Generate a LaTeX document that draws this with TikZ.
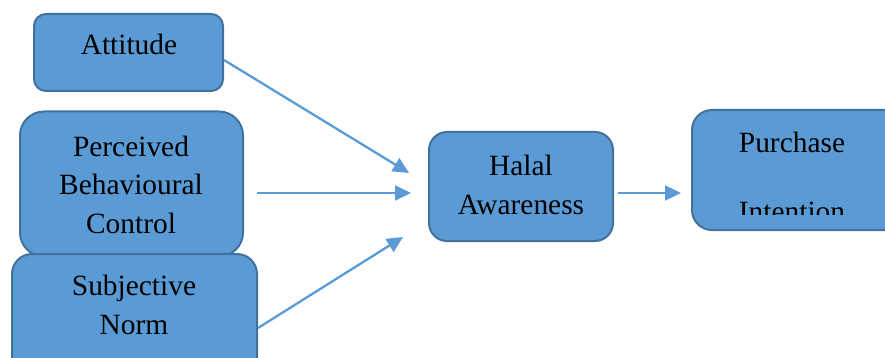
\documentclass[tikz,border=0pt]{standalone}
\usepackage{fontspec}
\setmainfont{Liberation Serif}
\usetikzlibrary{arrows.meta}
\definecolor{boxfill}{HTML}{5B9BD5}
\definecolor{boxline}{HTML}{41719C}
\begin{document}
\begin{tikzpicture}[x=1pt,y=-1pt,
  box/.style={draw=boxline,fill=boxfill,line width=2pt,inner sep=0pt},
  lbl/.style={inner sep=0pt,anchor=base,align=center,font=\fontsize{29.4}{38.5}\selectfont},
  conn/.style={draw=boxfill,line width=2.3pt,-{Triangle[length=16pt,width=15pt]}}]
\useasboundingbox (0,0) rectangle (885,358);
\clip (0,0) rectangle (885,358);
% boxes
\node[box,rounded corners=12pt,minimum width=189pt,minimum height=77pt] (att) at (128.5,52.5) {};
\node[box,rounded corners=24pt,minimum width=223pt,minimum height=145pt] (pbc) at (131.5,184) {};
\node[box,rounded corners=20pt,minimum width=245pt,minimum height=130pt] (sn) at (134.5,319) {};
\node[box,rounded corners=18pt,minimum width=184pt,minimum height=109pt] (ha) at (521,186.5) {};
\node[box,rounded corners=20pt,minimum width=220pt,minimum height=120pt] (pi) at (802,170) {};
% texts (base = baseline of last line)
\node[lbl] (tatt) at (129,55) {Attitude};
\node[lbl] (tpbc) at (131,233) {Perceived\\Behavioural\\Control};
\node[lbl] (tsn) at (134,334) {Subjective\\Norm};
\node[lbl] (tha) at (521,214) {Halal\\Awareness};
\node[lbl] (tpi1) at (792,153) {Purchase};
\begin{scope}
\clip (692,150) rectangle (885,214);
\node[lbl] (tpi2) at (792,221) {Intention};
\end{scope}
% connector ends
\coordinate (a1) at (224,60);
\coordinate (a2) at (409,173);
\coordinate (b1) at (257,193);
\coordinate (b2) at (411,193);
\coordinate (c1) at (258,328);
\coordinate (c2) at (403,237);
\coordinate (d1) at (618,193);
\coordinate (d2) at (681,193);
\draw[conn] (a1) -- (a2);
\draw[conn] (b1) -- (b2);
\draw[conn] (c1) -- (c2);
\draw[conn] (d1) -- (d2);
\end{tikzpicture}
\end{document}
